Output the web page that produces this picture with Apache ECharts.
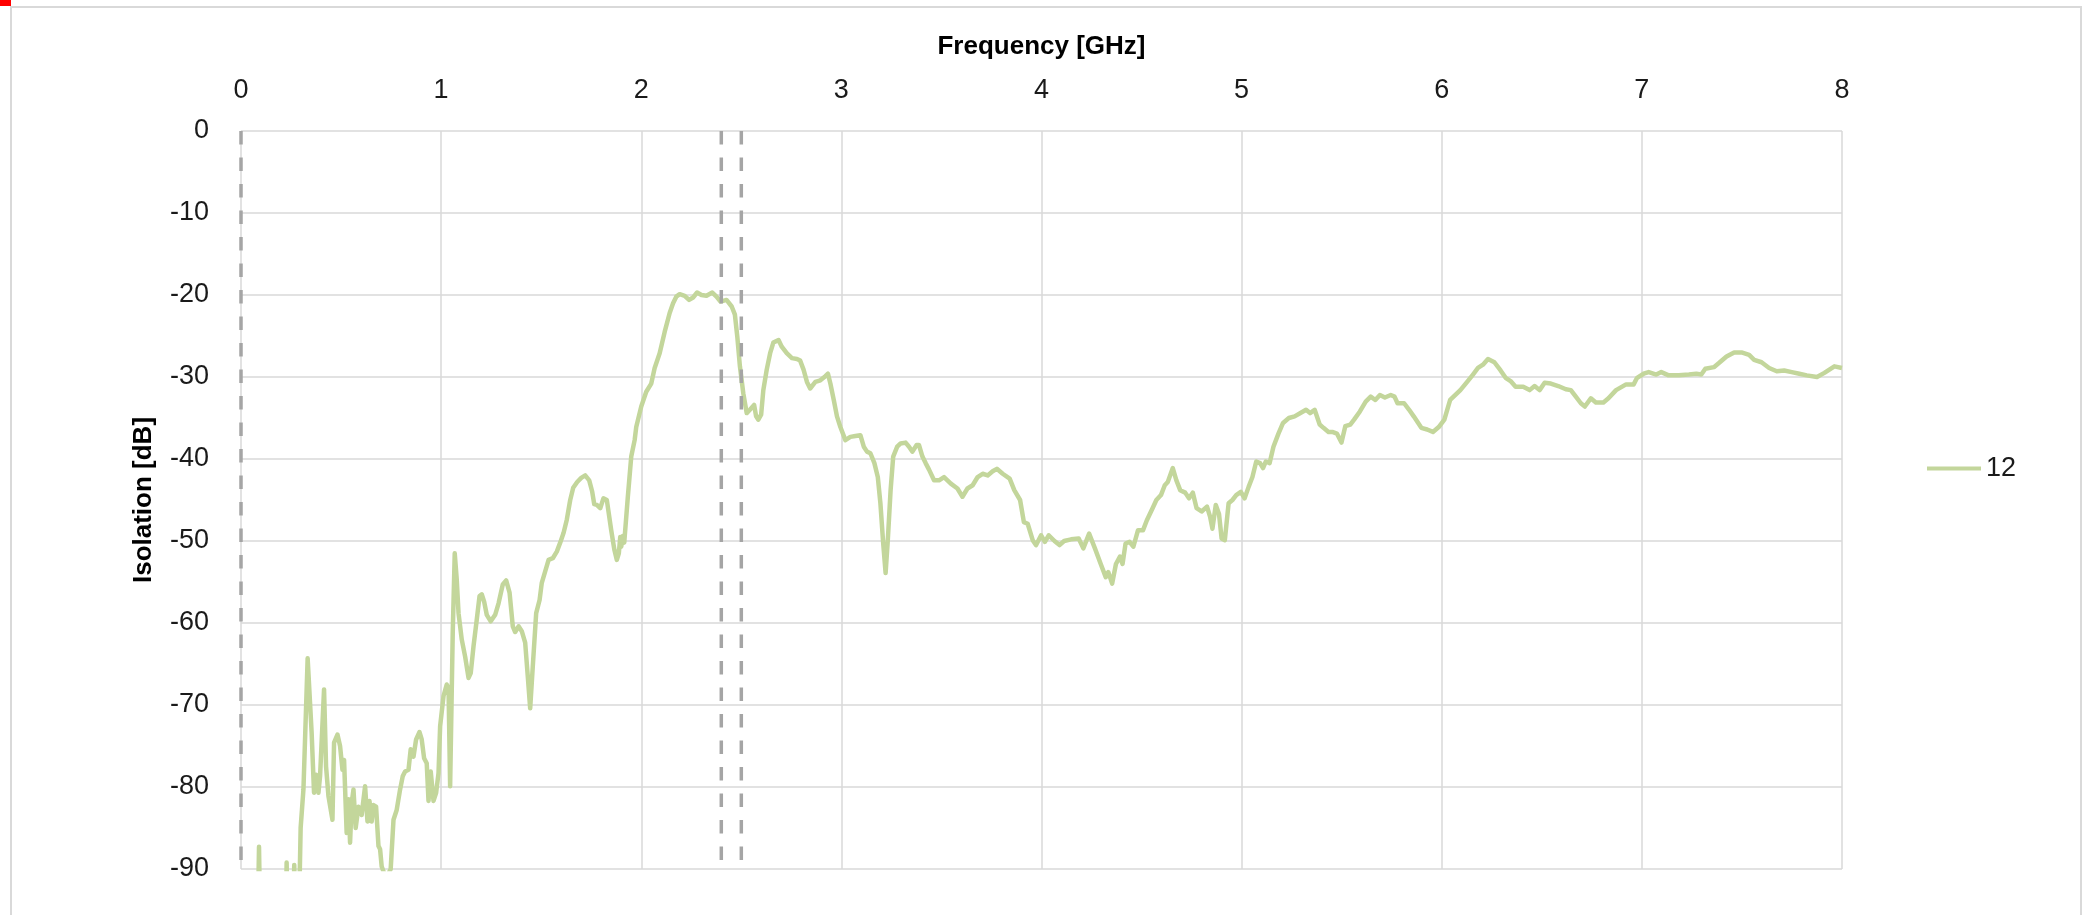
<!DOCTYPE html>
<html>
<head>
<meta charset="utf-8">
<script src="https://cdn.jsdelivr.net/npm/echarts@6/dist/echarts.min.js"></script>
<style>
html,body{margin:0;padding:0;background:#fff;}
#chart{width:2087px;height:915px;}
</style>
</head>
<body>
<div id="chart"></div>
<script>
// ---- data ----
const seriesName = '12';
const freqGHz = [
  0.00,0.085,0.09,0.095,0.225,0.228,0.232,0.262,0.266,0.27,0.29,0.298,0.312,0.333,0.353,0.365,0.375,0.387,0.395,0.415,
  0.425,0.437,0.457,0.465,0.482,0.495,0.507,0.515,0.523,0.528,0.537,0.545,0.553,0.562,0.573,0.587,0.603,0.62,0.632,0.642,
  0.653,0.662,0.675,0.687,0.695,0.703,0.715,0.728,0.748,0.762,0.778,0.795,0.808,0.82,0.837,0.848,0.862,0.875,0.892,0.903,
  0.915,0.928,0.937,0.948,0.962,0.975,0.987,0.995,1.012,1.028,1.037,1.045,1.053,1.058,1.068,1.078,1.087,1.103,1.12,1.137,
  1.148,1.162,1.178,1.192,1.203,1.215,1.228,1.248,1.27,1.287,1.308,1.325,1.342,1.358,1.37,1.387,1.403,1.42,1.433,1.445,
  1.458,1.475,1.492,1.503,1.52,1.537,1.558,1.578,1.595,1.612,1.628,1.645,1.66,1.68,1.70,1.72,1.74,1.755,1.765,1.778,
  1.795,1.811,1.828,1.85,1.866,1.878,1.888,1.895,1.90,1.908,1.915,1.933,1.95,1.967,1.975,2.0,2.025,2.05,2.067,2.092,
  2.117,2.142,2.159,2.175,2.192,2.217,2.239,2.259,2.279,2.301,2.326,2.355,2.376,2.396,2.426,2.452,2.468,2.48,2.493,2.51,
  2.527,2.543,2.564,2.574,2.585,2.599,2.61,2.627,2.644,2.66,2.686,2.702,2.727,2.753,2.778,2.794,2.811,2.828,2.844,2.87,
  2.895,2.92,2.933,2.945,2.962,2.978,2.995,3.02,3.045,3.07,3.095,3.112,3.128,3.145,3.165,3.182,3.195,3.209,3.221,3.232,
  3.246,3.259,3.279,3.296,3.321,3.338,3.355,3.376,3.388,3.405,3.421,3.438,3.463,3.488,3.513,3.53,3.547,3.58,3.605,3.63,
  3.656,3.681,3.706,3.731,3.756,3.777,3.806,3.841,3.864,3.893,3.912,3.931,3.956,3.973,3.998,4.017,4.036,4.065,4.09,4.113,
  4.148,4.186,4.209,4.238,4.267,4.296,4.321,4.334,4.353,4.372,4.392,4.405,4.42,4.44,4.459,4.482,4.507,4.526,4.555,4.574,
  4.597,4.616,4.631,4.656,4.674,4.693,4.718,4.737,4.756,4.775,4.80,4.827,4.843,4.854,4.871,4.887,4.90,4.916,4.935,4.954,
  4.973,4.996,5.015,5.035,5.054,5.073,5.092,5.107,5.121,5.14,5.159,5.184,5.207,5.236,5.265,5.294,5.322,5.342,5.365,5.39,
  5.409,5.434,5.453,5.476,5.499,5.518,5.543,5.562,5.591,5.62,5.645,5.668,5.691,5.716,5.745,5.764,5.779,5.812,5.837,5.86,
  5.898,5.927,5.956,5.985,6.013,6.042,6.093,6.13,6.156,6.181,6.206,6.231,6.263,6.294,6.319,6.344,6.369,6.407,6.439,6.464,
  6.489,6.514,6.545,6.582,6.62,6.645,6.67,6.695,6.715,6.745,6.77,6.808,6.833,6.871,6.921,6.959,6.976,7.009,7.034,7.072,
  7.097,7.134,7.184,7.235,7.272,7.297,7.317,7.36,7.385,7.423,7.461,7.498,7.536,7.561,7.598,7.636,7.674,7.711,7.749,7.787,
  7.824,7.875,7.912,7.962,8.0
];
const isolationDb = [
  -95,-95,-87.3,-95,-95,-89.2,-95,-95,-89.5,-95,-95,-85.0,-80.3,-64.3,-73.4,-80.7,-78.5,-80.7,-78.7,-68.1,
  -77.5,-81.1,-84.0,-74.6,-73.6,-75.0,-77.9,-76.7,-76.7,-85.6,-81.5,-86.8,-82.0,-80.3,-85.0,-82.4,-83.4,-79.9,-84.2,-81.7,
  -84.2,-82.2,-82.4,-87.2,-87.6,-89.7,-90.5,-91.0,-90.0,-84.0,-82.8,-80.3,-78.7,-78.1,-77.9,-75.4,-76.3,-74.2,-73.3,-74.2,
  -76.5,-77.1,-81.7,-78.1,-81.7,-80.7,-78.3,-72.6,-68.9,-67.5,-67.9,-79.9,-79.9,-61.2,-51.5,-54.7,-58.8,-62.0,-64.1,-66.7,
  -66.1,-62.8,-59.6,-56.7,-56.5,-57.4,-59.0,-59.8,-59.0,-57.6,-55.3,-54.8,-56.3,-60.4,-61.1,-60.4,-61.0,-62.4,-66.5,-70.4,
  -65.3,-58.8,-57.2,-55.1,-53.7,-52.3,-52.1,-51.3,-50.2,-49.0,-47.4,-45.0,-43.5,-42.8,-42.3,-42.0,-42.6,-44.0,-45.5,-45.6,
  -46.0,-44.8,-45.0,-48.7,-51.1,-52.3,-51.5,-49.5,-50.7,-49.4,-50.2,-44.6,-39.7,-37.7,-36.1,-33.6,-31.8,-30.8,-28.9,-27.1,
  -24.5,-22.2,-21.0,-20.2,-19.9,-20.1,-20.6,-20.3,-19.7,-20.0,-20.1,-19.7,-20.2,-20.8,-20.6,-21.4,-22.4,-25.1,-28.7,-32.0,
  -34.4,-34.0,-33.4,-34.8,-35.2,-34.6,-31.6,-29.1,-27.1,-25.8,-25.5,-26.3,-27.1,-27.7,-27.8,-28.0,-29.1,-30.6,-31.4,-30.6,
  -30.4,-29.9,-29.6,-30.8,-32.8,-34.8,-36.1,-37.7,-37.3,-37.2,-37.1,-38.5,-39.1,-39.3,-40.5,-42.2,-45.4,-50.3,-53.9,-49.9,
  -43.8,-39.7,-38.5,-38.1,-38.0,-38.5,-39.1,-38.3,-38.3,-39.7,-40.5,-41.3,-42.6,-42.6,-42.2,-42.6,-43.0,-43.6,-44.6,-43.6,
  -43.2,-42.2,-41.8,-42.0,-41.5,-41.2,-41.8,-42.4,-43.8,-45.0,-47.7,-47.9,-49.9,-50.5,-49.3,-50.1,-49.3,-50.0,-50.5,-50.0,
  -49.8,-49.7,-50.9,-49.1,-50.9,-52.8,-54.4,-53.8,-55.2,-52.8,-51.9,-52.8,-50.3,-50.1,-50.7,-48.7,-48.7,-47.5,-46.0,-45.0,
  -44.4,-43.2,-42.8,-41.1,-42.6,-43.8,-44.1,-44.8,-44.1,-46.0,-46.4,-45.8,-47.1,-48.5,-45.6,-46.7,-49.7,-49.9,-45.4,-45.0,
  -44.4,-44.0,-44.8,-43.4,-42.2,-40.3,-40.5,-41.1,-40.3,-40.5,-38.5,-36.9,-35.6,-35.0,-34.8,-34.4,-34.0,-34.4,-34.0,-35.8,
  -36.2,-36.7,-36.7,-36.9,-38.0,-36.0,-35.8,-35.2,-34.2,-33.0,-32.4,-32.8,-32.2,-32.5,-32.2,-32.4,-33.2,-33.2,-34.0,-34.8,
  -36.2,-36.4,-36.7,-36.1,-35.2,-32.8,-31.6,-30.5,-29.7,-28.9,-28.5,-27.8,-28.2,-29.2,-30.1,-30.5,-31.2,-31.2,-31.6,-31.1,
  -31.6,-30.7,-30.8,-31.1,-31.5,-31.6,-32.4,-33.2,-33.6,-32.6,-33.1,-33.1,-32.6,-31.6,-30.9,-30.9,-30.1,-29.6,-29.4,-29.7,
  -29.4,-29.8,-29.8,-29.7,-29.6,-29.7,-29.0,-28.8,-28.3,-27.5,-27.0,-27.0,-27.3,-27.9,-28.2,-28.9,-29.3,-29.2,-29.4,-29.6,
  -29.8,-30.0,-29.5,-28.7,-28.9
];
// vertical dashed marker lines (GHz)
const markerFreqs = [0, 2.4, 2.5];
const xTicks = [0, 1, 2, 3, 4, 5, 6, 7, 8];
const yTicks = [0, -10, -20, -30, -40, -50, -60, -70, -80, -90];

// ---- chart ----
const FONT = 'Liberation Sans';
const chart = echarts.init(document.getElementById('chart'), null, {renderer: 'canvas'});

const lineData = freqGHz.map((f, i) => [f, isolationDb[i]]);
const yMin = Math.min(...yTicks), yMax = Math.max(...yTicks);
const markerSeries = markerFreqs.map(f => ({
  type: 'line',
  name: 'marker' + f,
  data: [[f, yMax], [f, yMin]],
  symbol: 'none',
  silent: true,
  z: 5,
  lineStyle: {color: '#a5a5a5', width: 3.5, type: [13.5, 13], cap: 'butt'}
}));

chart.setOption({
  animation: false,
  backgroundColor: '#ffffff',
  graphic: [
    {type: 'rect', shape: {x: 11, y: 7, width: 2070, height: 940}, style: {fill: 'none', stroke: '#d9d9d9', lineWidth: 2}, silent: true},
    {type: 'rect', shape: {x: 0, y: 0, width: 11, height: 6}, style: {fill: '#ff0000'}, silent: true}
  ],
  grid: {left: 241, top: 131, width: 1601, height: 738, containLabel: false},
  legend: {
    data: [{name: seriesName, icon: 'rect'}],
    orient: 'vertical',
    left: 1927,
    top: 455,
    padding: 0,
    itemWidth: 54,
    itemHeight: 4,
    textStyle: {fontFamily: FONT, fontSize: 27, color: '#1a1a1a'}
  },
  xAxis: {
    type: 'value',
    position: 'top',
    min: xTicks[0],
    max: xTicks[xTicks.length - 1],
    interval: 1,
    name: 'Frequency [GHz]',
    nameLocation: 'middle',
    nameGap: 71,
    nameTextStyle: {fontFamily: FONT, fontSize: 26, fontWeight: 'bold', color: '#000'},
    axisLine: {show: false},
    axisTick: {show: false},
    axisLabel: {fontFamily: FONT, fontSize: 27, color: '#1a1a1a', margin: 27},
    splitLine: {show: true, lineStyle: {color: '#d9d9d9', width: 1.5}}
  },
  yAxis: {
    type: 'value',
    min: yMin,
    max: yMax,
    interval: 10,
    name: 'Isolation [dB]',
    nameLocation: 'middle',
    nameGap: 84,
    nameRotate: 90,
    nameTextStyle: {fontFamily: FONT, fontSize: 26, fontWeight: 'bold', color: '#000'},
    axisLine: {show: false},
    axisTick: {show: false},
    axisLabel: {fontFamily: FONT, fontSize: 27, color: '#1a1a1a', margin: 32},
    splitLine: {show: true, lineStyle: {color: '#d9d9d9', width: 1.5}}
  },
  series: [
    {
      type: 'line',
      name: seriesName,
      data: lineData,
      symbol: 'none',
      clip: true,
      z: 3,
      lineStyle: {color: '#c3d69b', width: 4.5, join: 'round'},
      itemStyle: {color: '#c3d69b'}
    }
  ].concat(markerSeries)
});
</script>
</body>
</html>
